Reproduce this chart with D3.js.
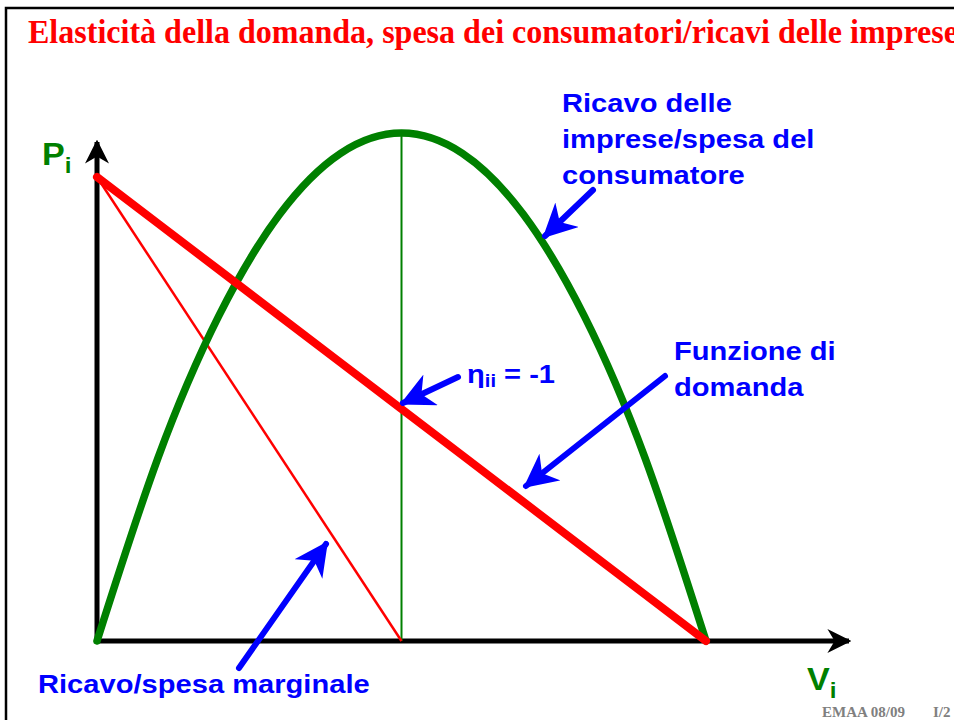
<!DOCTYPE html>
<html>
<head>
<meta charset="utf-8">
<script src="https://cdn.jsdelivr.net/npm/d3@7"></script>
<style>
  body { margin: 0; background: #fff; }
  svg { display: block; }
</style>
</head>
<body>
<div id="chart"></div>
<script>
var w = 954;
var h = 720;

// quantities (V) and the price on the demand function
var quantity = [0, 1, 2, 3, 4, 5, 6, 7, 8, 9, 10];
var price = [10, 9, 8, 7, 6, 5, 4, 3, 2, 1, 0];
// marginal revenue: straight line, hits zero at half the demand intercept
var mrQuantity = [0, 5];
var mrValue = [10, 0];
// total revenue / consumer spending
var revenue = [0, 9, 16, 21, 24, 25, 24, 21, 16, 9, 0];
// unit elasticity point
var unitQuantity = 5;

var svg = d3.select("#chart")
            .append("svg")
            .attr("width", w)
            .attr("height", h);

// frame
svg.append("rect")
    .attr("x", 6).attr("y", 8)
    .attr("width", 980).attr("height", 760)
    .attr("fill", "none")
    .attr("stroke", "#000")
    .attr("stroke-width", 2.5);

// title
svg.append("text")
    .attr("x", 28).attr("y", 43)
    .attr("textLength", 930)
    .attr("lengthAdjust", "spacingAndGlyphs")
    .style("font-family", "'Liberation Serif', 'Times New Roman', serif")
    .style("font-weight", "bold")
    .style("font-size", "33px")
    .style("fill", "#ff0000")
    .text("Elasticità della domanda, spesa dei consumatori/ricavi delle imprese");

// scales
var xScale = d3.scaleLinear().domain([0, 10]).range([97, 706]);
var yPrice = d3.scaleLinear().domain([0, 10]).range([641, 177]);
var yRev = d3.scaleLinear().domain([0, 25]).range([641, 133]);

var defs = svg.append("defs");
function marker(id, color, size) {
    defs.append("marker")
        .attr("id", id)
        .attr("viewBox", "0 0 10 10")
        .attr("refX", 9).attr("refY", 5)
        .attr("markerUnits", "userSpaceOnUse")
        .attr("markerWidth", size).attr("markerHeight", size)
        .attr("orient", "auto")
        .append("path")
        .attr("d", "M0,0 L10,5 L0,10 L3,5 Z")
        .attr("fill", color);
}
marker("arrBlack", "#000", 24);
marker("arrBlue", "#0000ff", 34);

// axes
svg.append("line")
    .attr("x1", xScale(0)).attr("y1", yPrice(0))
    .attr("x2", xScale(0)).attr("y2", 142)
    .attr("stroke", "#000").attr("stroke-width", 5)
    .attr("marker-end", "url(#arrBlack)");
svg.append("line")
    .attr("x1", xScale(0) - 2).attr("y1", yPrice(0))
    .attr("x2", 849).attr("y2", yPrice(0))
    .attr("stroke", "#000").attr("stroke-width", 5)
    .attr("marker-end", "url(#arrBlack)");

// vertical line at unit elasticity
svg.append("line")
    .attr("x1", xScale(unitQuantity)).attr("y1", yRev(0))
    .attr("x2", xScale(unitQuantity)).attr("y2", yRev(d3.max(revenue)))
    .attr("stroke", "#008000").attr("stroke-width", 2);

// marginal revenue
var mrLine = d3.line()
    .x(function(d, i) { return xScale(mrQuantity[i]); })
    .y(function(d) { return yPrice(d); });
svg.append("path")
    .attr("d", mrLine(mrValue))
    .attr("fill", "none")
    .attr("stroke", "#ff0000")
    .attr("stroke-width", 2.5);

// revenue curve
var revLine = d3.line()
    .x(function(d, i) { return xScale(quantity[i]); })
    .y(function(d) { return yRev(d); })
    .curve(d3.curveNatural);
svg.append("path")
    .attr("d", revLine(revenue))
    .attr("fill", "none")
    .attr("stroke", "#008000")
    .attr("stroke-width", 7.5)
    .attr("stroke-linecap", "round");

// demand function
var demandLine = d3.line()
    .x(function(d, i) { return xScale(quantity[i]); })
    .y(function(d) { return yPrice(d); });
svg.append("path")
    .attr("d", demandLine(price))
    .attr("fill", "none")
    .attr("stroke", "#ff0000")
    .attr("stroke-width", 8)
    .attr("stroke-linecap", "round");

// axis labels
function axisLabel(x, y, main, sub) {
    var t = svg.append("text")
        .attr("transform", "translate(" + x + "," + y + ") scale(1.1,1)")
        .style("font-family", "'Liberation Sans', Arial, sans-serif")
        .style("font-weight", "bold")
        .style("font-size", "31px")
        .style("fill", "#008000");
    t.append("tspan").text(main);
    t.append("tspan").attr("dy", 8).style("font-size", "22px").text(sub);
}
axisLabel(42, 165, "P", "i");
axisLabel(807, 690, "V", "i");

// blue annotations
var blueFont = "'Liberation Sans', Arial, sans-serif";
function label(x, y, lines) {
    var t = svg.append("text")
        .attr("transform", "translate(" + x + "," + y + ") scale(1.12,1)")
        .style("font-family", blueFont)
        .style("font-weight", "bold")
        .style("font-size", "26px")
        .style("fill", "#0000ff");
    lines.forEach(function(s, i) {
        t.append("tspan").attr("x", 0).attr("dy", i === 0 ? 0 : 36).text(s);
    });
    return t;
}
label(562, 112, ["Ricavo delle", "imprese/spesa del", "consumatore"]);
label(674, 360, ["Funzione di", "domanda"]);
label(38, 693, ["Ricavo/spesa marginale"]);

var eta = svg.append("text")
    .attr("transform", "translate(467,383) scale(1.12,1)")
    .style("font-family", blueFont)
    .style("font-weight", "bold")
    .style("font-size", "26px")
    .style("fill", "#0000ff");
eta.append("tspan").text("η");
eta.append("tspan").attr("dy", 4).style("font-size", "18px").text("ii");
eta.append("tspan").attr("dy", -4).text(" = -1");

var arrows = [
    { x1: 593, y1: 190, x2: 545, y2: 236 },
    { x1: 458, y1: 377, x2: 403, y2: 403 },
    { x1: 665, y1: 376, x2: 526, y2: 486 },
    { x1: 239, y1: 668, x2: 326, y2: 544 }
];
svg.selectAll(".ann")
    .data(arrows)
    .enter()
    .append("line")
    .attr("class", "ann")
    .attr("x1", function(d) { return d.x1; })
    .attr("y1", function(d) { return d.y1; })
    .attr("x2", function(d) { return d.x2; })
    .attr("y2", function(d) { return d.y2; })
    .attr("stroke", "#0000ff")
    .attr("stroke-width", 6)
    .attr("stroke-linecap", "round")
    .attr("marker-end", "url(#arrBlue)");

// footer
svg.append("text")
    .attr("x", 822).attr("y", 717)
    .style("font-family", "'Liberation Serif', 'Times New Roman', serif")
    .style("font-weight", "bold")
    .style("font-size", "15px")
    .style("fill", "#808080")
    .text("EMAA 08/09");
svg.append("text")
    .attr("x", 933).attr("y", 717)
    .style("font-family", "'Liberation Serif', 'Times New Roman', serif")
    .style("font-weight", "bold")
    .style("font-size", "15px")
    .style("fill", "#808080")
    .text("I/2");
</script>
</body>
</html>
